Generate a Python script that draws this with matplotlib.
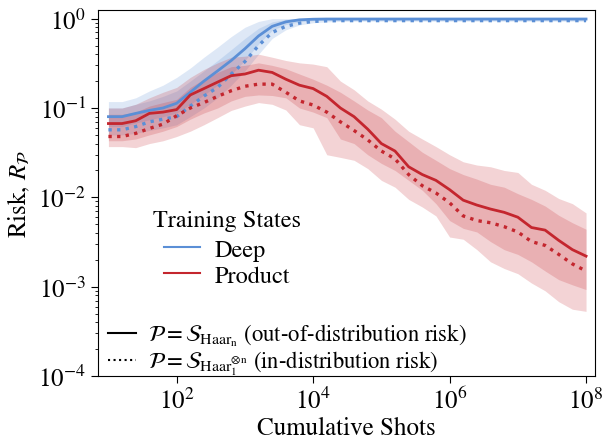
import numpy as np
import matplotlib
matplotlib.use("Agg")
import matplotlib.pyplot as plt
from matplotlib.lines import Line2D

plt.rcParams['font.family'] = 'STIXGeneral'
plt.rcParams['mathtext.fontset'] = 'stix'

# log10 of cumulative shots
log_shots = [1.0, 1.2, 1.4, 1.6, 1.8, 2.0, 2.2, 2.4, 2.6, 2.8, 3.0, 3.2, 3.4, 3.6, 3.8, 4.0, 4.2, 4.4,
             4.6, 4.8, 5.0, 5.2, 5.4, 5.6, 5.8, 6.0, 6.2, 6.4, 6.6, 6.8, 7.0, 7.2, 7.4, 7.6, 7.8, 8.0]

# Deep training states
deep_ood = [0.080, 0.080, 0.087, 0.094, 0.100, 0.113, 0.150, 0.20, 0.26, 0.34, 0.46, 0.64, 0.82, 0.92,
            0.97, 0.985, 0.99, 0.99, 0.99, 0.99, 0.99, 0.99, 0.99, 0.99, 0.99, 0.99, 0.99, 0.99, 0.99,
            0.99, 0.99, 0.99, 0.99, 0.99, 0.99, 0.99]
deep_id = [0.057, 0.057, 0.062, 0.070, 0.075, 0.080, 0.105, 0.136, 0.17, 0.24, 0.33, 0.50, 0.70, 0.82,
           0.89, 0.93, 0.945, 0.95, 0.95, 0.95, 0.95, 0.95, 0.95, 0.95, 0.95, 0.95, 0.95, 0.95, 0.95,
           0.95, 0.95, 0.95, 0.95, 0.95, 0.95, 0.95]
deep_outer_hi = [0.118, 0.118, 0.13, 0.155, 0.18, 0.22, 0.28, 0.37, 0.48, 0.63, 0.80, 0.93, 1.0, 1.0,
                 1.0, 1.0, 1.0, 1.0, 1.0, 1.0, 1.0, 1.0, 1.0, 1.0, 1.0, 1.0, 1.0, 1.0, 1.0, 1.0, 1.0,
                 1.0, 1.0, 1.0, 1.0, 1.0]
deep_outer_lo = [0.050, 0.050, 0.052, 0.056, 0.060, 0.065, 0.080, 0.10, 0.13, 0.18, 0.26, 0.40, 0.60,
                 0.75, 0.85, 0.90, 0.92, 0.93, 0.935, 0.935, 0.935, 0.935, 0.935, 0.935, 0.935, 0.935,
                 0.935, 0.935, 0.935, 0.935, 0.935, 0.935, 0.935, 0.935, 0.935, 0.935]
deep_inner_hi = [0.10, 0.10, 0.11, 0.12, 0.135, 0.155, 0.20, 0.26, 0.34, 0.45, 0.60, 0.78, 0.92, 0.98,
                 0.995, 1.0, 1.0, 1.0, 1.0, 1.0, 1.0, 1.0, 1.0, 1.0, 1.0, 1.0, 1.0, 1.0, 1.0, 1.0, 1.0,
                 1.0, 1.0, 1.0, 1.0, 1.0]
deep_inner_lo = [0.062, 0.062, 0.068, 0.074, 0.080, 0.088, 0.11, 0.14, 0.18, 0.24, 0.34, 0.52, 0.74,
                 0.86, 0.92, 0.95, 0.96, 0.965, 0.965, 0.965, 0.965, 0.965, 0.965, 0.965, 0.965, 0.965,
                 0.965, 0.965, 0.965, 0.965, 0.965, 0.965, 0.965, 0.965, 0.965, 0.965]

# Product training states
prod_ood = [0.067, 0.067, 0.072, 0.087, 0.090, 0.096, 0.14, 0.165, 0.195, 0.23, 0.24, 0.265, 0.25,
            0.21, 0.18, 0.165, 0.135, 0.10, 0.080, 0.058, 0.040, 0.033, 0.022, 0.018, 0.0155, 0.0122,
            0.0093, 0.0082, 0.0074, 0.0068, 0.0060, 0.0046, 0.0043, 0.0033, 0.0026, 0.0022]
prod_id = [0.048, 0.048, 0.052, 0.059, 0.066, 0.082, 0.10, 0.115, 0.135, 0.156, 0.175, 0.185, 0.185,
           0.15, 0.12, 0.108, 0.090, 0.070, 0.056, 0.044, 0.033, 0.027, 0.018, 0.0135, 0.0112, 0.0087,
           0.0062, 0.0055, 0.0052, 0.0047, 0.0041, 0.0032, 0.0029, 0.0023, 0.0018, 0.0015]
prod_outer_hi = [0.10, 0.10, 0.11, 0.13, 0.15, 0.17, 0.22, 0.27, 0.32, 0.37, 0.38, 0.40, 0.37, 0.34,
                 0.32, 0.31, 0.29, 0.20, 0.16, 0.12, 0.097, 0.075, 0.055, 0.045, 0.037, 0.030, 0.025,
                 0.023, 0.022, 0.020, 0.019, 0.014, 0.012, 0.0097, 0.0085, 0.0067]
prod_outer_lo = [0.037, 0.037, 0.036, 0.040, 0.043, 0.048, 0.055, 0.065, 0.078, 0.094, 0.105, 0.115,
                 0.11, 0.095, 0.065, 0.060, 0.030, 0.028, 0.026, 0.021, 0.0155, 0.013, 0.0095, 0.0078,
                 0.0062, 0.0036, 0.0034, 0.0026, 0.0019, 0.0016, 0.0014, 0.0011, 0.0009, 0.00068,
                 0.00056, 0.00053]
prod_inner_hi = [0.085, 0.085, 0.09, 0.105, 0.115, 0.125, 0.17, 0.21, 0.25, 0.29, 0.30, 0.32, 0.30,
                 0.275, 0.24, 0.21, 0.18, 0.15, 0.12, 0.095, 0.078, 0.055, 0.042, 0.032, 0.026, 0.021,
                 0.018, 0.016, 0.014, 0.013, 0.011, 0.0095, 0.008, 0.0063, 0.0052, 0.0044]
prod_inner_lo = [0.043, 0.043, 0.045, 0.050, 0.055, 0.062, 0.075, 0.088, 0.10, 0.12, 0.135, 0.14,
                 0.138, 0.13, 0.10, 0.090, 0.078, 0.045, 0.040, 0.030, 0.024, 0.020, 0.0155, 0.012,
                 0.0085, 0.0055, 0.0045, 0.0041, 0.0032, 0.0026, 0.0023, 0.0019, 0.0015, 0.0012,
                 0.00105, 0.00093]

blue = '#5b8fd6'
red = '#c4262e'
shots = 10.0 ** np.array(log_shots)

fig, ax = plt.subplots(figsize=(6.04, 4.39), dpi=100)
fig.subplots_adjust(left=0.162, right=0.985, top=0.975, bottom=0.141)

for c, ood, idr, ohi, olo, ihi, ilo in [
        (blue, deep_ood, deep_id, deep_outer_hi, deep_outer_lo, deep_inner_hi, deep_inner_lo),
        (red, prod_ood, prod_id, prod_outer_hi, prod_outer_lo, prod_inner_hi, prod_inner_lo)]:
    ax.fill_between(shots, olo, ohi, color=c, alpha=0.2, lw=0)
    ax.fill_between(shots, ilo, ihi, color=c, alpha=0.2, lw=0)
    ax.plot(shots, ood, color=c, lw=2.0, ls='-')
    ax.plot(shots, idr, color=c, lw=2.4, ls=(0, (1, 1.6)))

ax.set_xscale('log')
ax.set_yscale('log')
ax.set_xlim(7, 1.35e8)
ax.set_ylim(1e-4, 1.25)
ax.set_xticks([1e2, 1e4, 1e6, 1e8])
ax.xaxis.set_minor_locator(matplotlib.ticker.NullLocator())
ax.tick_params(axis='both', which='major', labelsize=18, length=5, direction='out')
ax.tick_params(axis='y', which='minor', length=2.5)
ax.set_xlabel('Cumulative Shots', fontsize=18, labelpad=1)
ax.set_ylabel(r'Risk, $R_\mathcal{P}$', fontsize=18)

h1 = [Line2D([], [], color=blue, lw=1.5), Line2D([], [], color=red, lw=1.5)]
leg1 = ax.legend(h1, ['Deep', 'Product'], title='Training States', frameon=False,
                 fontsize=17.5, title_fontsize=17.5, loc='center', bbox_to_anchor=(0.26, 0.35),
                 handlelength=1.5, handletextpad=0.6, labelspacing=0.15, borderpad=0.2)
leg1._legend_box.sep = 6
ax.add_artist(leg1)

h2 = [Line2D([], [], color='black', lw=1.5, ls='-'), Line2D([], [], color='black', lw=1.5, ls=':')]
labels2 = [r'$\mathcal{P} = \mathcal{S}_{\mathrm{Haar}_\mathrm{n}}$ (out-of-distribution risk)',
           r'$\mathcal{P} = \mathcal{S}_{\mathrm{Haar}_1^{\otimes \mathrm{n}}}$ (in-distribution risk)']
ax.legend(h2, labels2, frameon=False, fontsize=16.3, loc='lower left',
          bbox_to_anchor=(0.013, -0.012), borderaxespad=0.05,
          handlelength=1.25, handletextpad=0.55, labelspacing=0.05, borderpad=0.1)

fig.savefig('out.png', dpi=100)
